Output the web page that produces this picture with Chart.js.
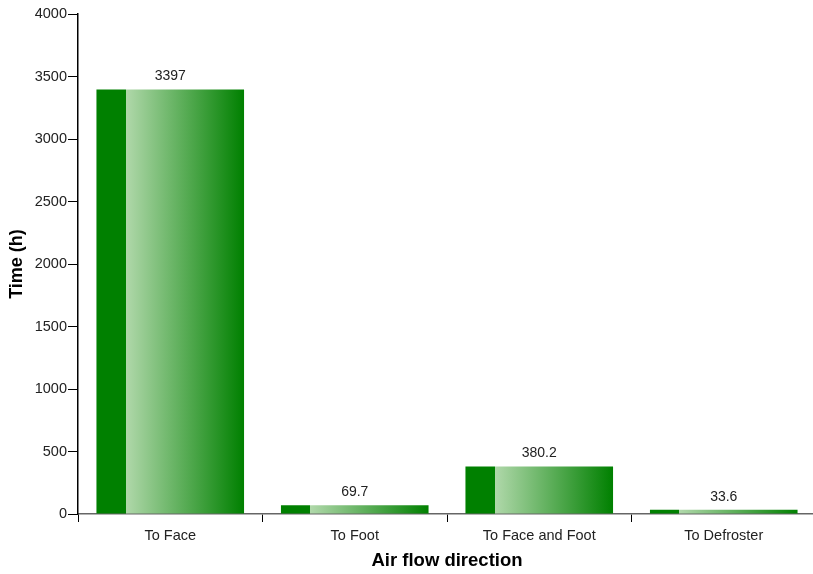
<!DOCTYPE html>
<html>
<head>
<meta charset="utf-8">
<script src="https://cdn.jsdelivr.net/npm/chart.js@4"></script>
<style>
    html, body { margin: 0; padding: 0; background: #fff; overflow: hidden; }
    #wrap { width: 817px; height: 574px; }
</style>
</head>
<body>
<div id="wrap"><canvas id="chart" width="817" height="574"></canvas></div>
<script>
// Chart data
const categories = ['To Face', 'To Foot', 'To Face and Foot', 'To Defroster'];
const hours = [3397, 69.7, 380.2, 33.6];
const yTicks = [0, 500, 1000, 1500, 2000, 2500, 3000, 3500, 4000];

const DARK = 'rgb(0, 128, 0)';
const LIGHT = 'rgb(176, 216, 170)';
const FONT = 'Liberation Sans, Arial, sans-serif';

// Gradient per bar: solid dark strip on the left, then light -> dark
function barGradient(ctx) {
    const chart = ctx.chart;
    const area = chart.chartArea;
    if (!area || ctx.type !== 'data') return DARK;
    const xs = chart.scales.x;
    const center = xs.getPixelForValue(ctx.dataIndex);
    const w = (area.right - area.left) / categories.length * 0.8;
    const left = center - w / 2;
    const g = chart.ctx.createLinearGradient(left, 0, left + w, 0);
    g.addColorStop(0, DARK);
    g.addColorStop(0.2, DARK);
    g.addColorStop(0.2, LIGHT);
    g.addColorStop(1, DARK);
    return g;
}

// Value labels above bars
const valueLabels = {
    id: 'valueLabels',
    afterDatasetsDraw(chart) {
        const ctx = chart.ctx;
        const meta = chart.getDatasetMeta(0);
        ctx.save();
        ctx.font = '14px ' + FONT;
        ctx.fillStyle = '#222';
        ctx.textAlign = 'center';
        ctx.textBaseline = 'bottom';
        meta.data.forEach((bar, i) => {
            ctx.fillText(String(hours[i]), bar.x, bar.y - 6);
        });
        ctx.restore();
    }
};

new Chart(document.getElementById('chart'), {
    type: 'bar',
    data: {
        labels: categories,
        datasets: [{
            data: hours,
            backgroundColor: barGradient,
            borderWidth: 0,
            barPercentage: 0.8,
            categoryPercentage: 1
        }]
    },
    options: {
        responsive: false,
        animation: false,
        layout: { padding: { top: 14, right: 1, left: 0, bottom: 0 } },
        plugins: {
            legend: { display: false },
            tooltip: { enabled: false }
        },
        scales: {
            x: {
                grid: {
                    display: true,
                    drawOnChartArea: false,
                    drawTicks: true,
                    tickLength: 8,
                    color: '#000',
                    offset: true
                },
                border: { display: true, color: '#666', width: 1.5 },
                ticks: {
                    color: '#222',
                    font: { family: FONT, size: 14.5 },
                    padding: 5,
                    maxRotation: 0
                },
                title: {
                    display: true,
                    text: 'Air flow direction',
                    color: '#000',
                    font: { family: FONT, size: 18.5, weight: 'bold' },
                    padding: { top: 0, bottom: 2 }
                },
                afterFit(scale) { scale.height = 60; }
            },
            y: {
                min: 0,
                max: 4000,
                afterBuildTicks(scale) {
                    scale.ticks = yTicks.map(v => ({ value: v }));
                },
                grid: {
                    display: true,
                    drawOnChartArea: false,
                    drawTicks: true,
                    tickLength: 10,
                    color: '#000'
                },
                border: { display: true, color: '#000', width: 1.5 },
                ticks: {
                    color: '#222',
                    font: { family: FONT, size: 14.5 },
                    padding: 1,
                    callback: v => String(v)
                },
                title: {
                    display: true,
                    text: 'Time (h)',
                    color: '#000',
                    font: { family: FONT, size: 18, weight: 'bold' },
                    padding: { top: 6, bottom: 0 }
                },
                afterFit(scale) { scale.width = 78; }
            }
        }
    },
    plugins: [valueLabels]
});
</script>
</body>
</html>
